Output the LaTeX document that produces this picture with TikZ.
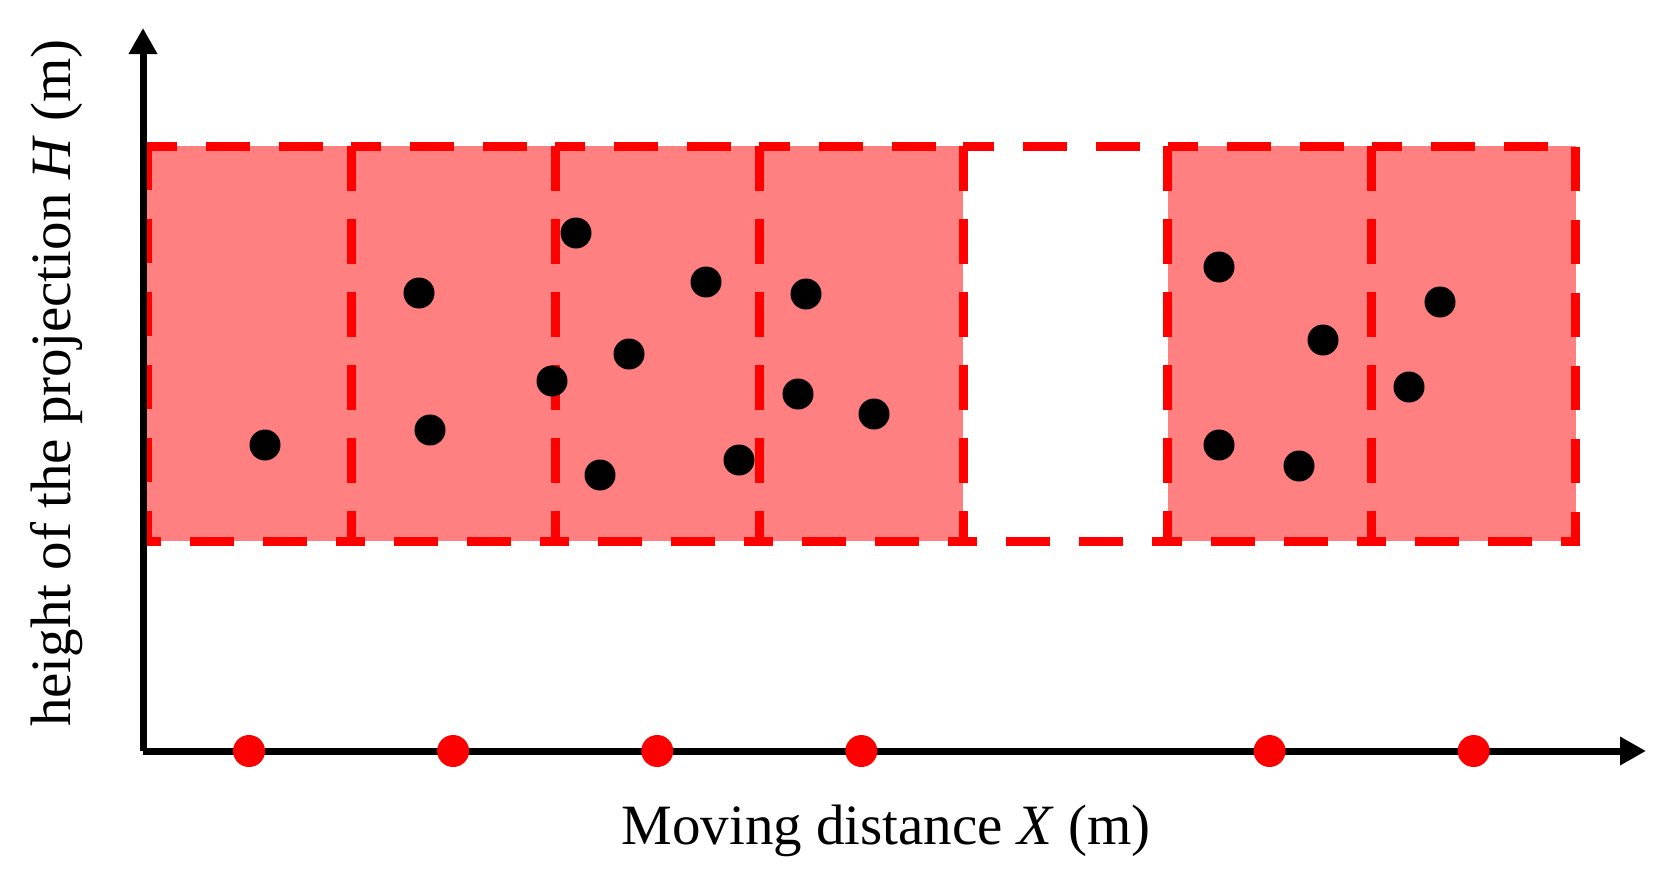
\documentclass[tikz,border=0pt]{standalone}
\usepackage{fontspec}
\setmainfont{Liberation Serif}
\usetikzlibrary{arrows.meta}
\begin{document}
\begin{tikzpicture}[x=1pt,y=-1pt,
  cellfill/.style={fill=red!50,draw=none},
  cellborder/.style={draw=red,line width=9pt,dash pattern=on 44pt off 29pt},
  blackdot/.style={circle,fill=black,inner sep=0pt,minimum size=31pt},
  reddot/.style={circle,fill=red,inner sep=0pt,minimum size=32pt},
  axis/.style={line width=7pt,-{Triangle[width=27pt,length=26pt]}},
  lbl/.style={font=\fontsize{57}{60}\selectfont,inner sep=0pt}]
\useasboundingbox (0,0) rectangle (1670,884);
% cells
\foreach \i/\f in {0/1,1/1,2/1,3/1,4/0,5/1,6/1}{
  \pgfmathsetmacro{\xa}{147+204.1*\i}
  \pgfmathsetmacro{\xb}{147+204.1*(\i+1)}
  \ifnum\f=1 \fill[red!50] (\xa,146) rectangle (\xb,541);\fi
}
\foreach \i in {0,...,6}{
  \pgfmathsetmacro{\xa}{147+204.1*\i}
  \pgfmathsetmacro{\xb}{147+204.1*(\i+1)}
  \draw[cellborder] (\xa,146) rectangle (\xb,541);
}
% axes
\coordinate (O) at (143,751);
\coordinate (ytip) at (143,28);
\coordinate (xtip) at (1646,751);
\draw[axis] (O) -- (ytip);
\draw[axis] (O) -- (xtip);
% black dots
\foreach \n/\x/\y in {a/265/445,b/419/293,c/430/430,d/576/233,e/552/381,f/629/354,g/600/475,h/706/282,i/739/460,j/806/294,k/798/394,l/874/414,m/1219/267,n/1323/340,o/1219/445,p/1299/466,q/1440/302,r/1409/387}{
  \node[blackdot] (bd\n) at (\x,\y) {};
}
% red dots
\foreach \i in {0,1,2,3,5,6}{
  \pgfmathsetmacro{\xc}{147+204.1*(\i+0.5)}
  \node[reddot] (rd\i) at (\xc,751) {};
}
% labels
\node[lbl] (xl) at (886,831) {Moving distance \textit{X} (m)};
\node[lbl,rotate=90] (yl) at (57,383) {height of the projection \textit{H} (m)};
\end{tikzpicture}
\end{document}
